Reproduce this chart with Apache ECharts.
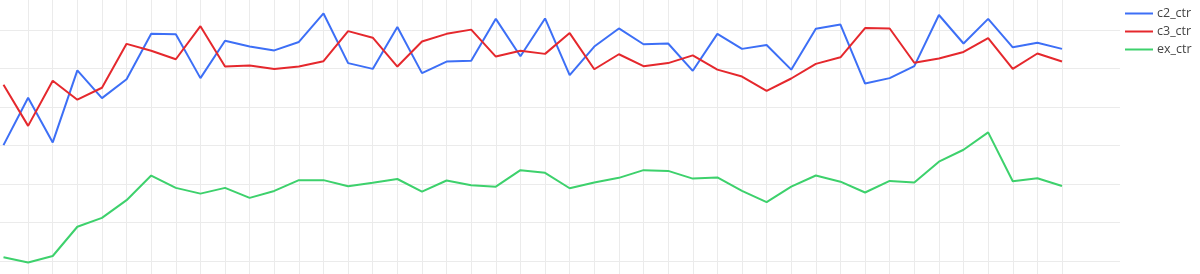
<!DOCTYPE html>
<html>
<head>
<meta charset="utf-8">
<script src="https://cdn.jsdelivr.net/npm/echarts@6/dist/echarts.min.js"></script>
<style>
html,body{margin:0;padding:0;background:#fff;}
#chart{width:1200px;height:274px;}
</style>
</head>
<body>
<div id="chart"></div>
<script>
var categories = [];
for (var i = 1; i <= 44; i++) { categories.push('d' + i); }

var c2_ctr = [3.01,4.24,3.08,4.95,4.23,4.72,5.90,5.89,4.75,5.72,5.57,5.47,5.69,6.43,5.14,4.99,6.08,4.88,5.18,5.20,6.29,5.32,6.30,4.83,5.57,6.04,5.63,5.65,4.94,5.90,5.51,5.61,4.97,6.03,6.14,4.61,4.75,5.06,6.39,5.65,6.29,5.55,5.67,5.51];
var c3_ctr = [4.58,3.51,4.68,4.19,4.50,5.64,5.46,5.24,6.10,5.05,5.08,4.99,5.05,5.19,5.97,5.80,5.05,5.70,5.90,6.01,5.31,5.46,5.38,5.92,4.98,5.37,5.06,5.14,5.34,4.97,4.79,4.42,4.74,5.12,5.29,6.05,6.04,5.15,5.26,5.43,5.79,4.99,5.39,5.18];
var ex_ctr = [0.10,-0.04,0.13,0.89,1.12,1.58,2.22,1.90,1.75,1.90,1.64,1.82,2.10,2.10,1.94,2.03,2.13,1.80,2.09,1.97,1.93,2.36,2.29,1.89,2.04,2.16,2.36,2.34,2.14,2.17,1.82,1.53,1.93,2.22,2.06,1.78,2.08,2.04,2.58,2.89,3.34,2.07,2.15,1.95];

var seriesNames = ['c2_ctr', 'c3_ctr', 'ex_ctr'];
var seriesData = [c2_ctr, c3_ctr, ex_ctr];
var colors = ['#3d6ff6', '#e5282d', '#3dd16c'];

var gridColor = '#ebebeb';
var chart = echarts.init(document.getElementById('chart'), null, {renderer: 'canvas'});

var option = {
  animation: false,
  backgroundColor: '#ffffff',
  grid: [
    {left: 3.5, right: 138, top: 0, bottom: 0},
    {left: 0, right: 80, top: 30, bottom: 13}
  ],
  legend: {
    data: seriesNames.map(function (n) { return {name: n, icon: 'rect'}; }),
    orient: 'vertical',
    left: 1125,
    top: 7,
    padding: 0,
    itemWidth: 28,
    itemHeight: 2,
    itemGap: 5,
    textStyle: {color: '#444', fontSize: 12.5, fontFamily: 'Open Sans', padding: [0, 0, 0, -1]}
  },
  xAxis: [
    {
      gridIndex: 0, type: 'category', data: categories, boundaryGap: false,
      axisLine: {show: false}, axisTick: {show: false}, axisLabel: {show: false},
      splitLine: {show: true, interval: function (idx) { return idx > 0; }, lineStyle: {color: gridColor, width: 1}}
    },
    {
      gridIndex: 1, type: 'value', min: 0, max: 1,
      axisLine: {show: false}, axisTick: {show: false}, axisLabel: {show: false}, splitLine: {show: false}
    }
  ],
  yAxis: [
    {
      gridIndex: 0, type: 'value', min: -13 / 38.5, max: 261 / 38.5,
      axisLine: {show: false}, axisTick: {show: false}, axisLabel: {show: false}, splitLine: {show: false}
    },
    {
      gridIndex: 1, type: 'value', min: 0, max: 6, interval: 1,
      axisLine: {show: false}, axisTick: {show: false}, axisLabel: {show: false},
      splitLine: {show: true, showMinLine: true, showMaxLine: true, lineStyle: {color: gridColor, width: 1}}
    }
  ],
  series: seriesNames.map(function (n, i) {
    return {
      name: n, type: 'line', xAxisIndex: 0, yAxisIndex: 0,
      data: seriesData[i], showSymbol: false, symbol: 'none',
      clip: false,
      lineStyle: {color: colors[i], width: 2},
      itemStyle: {color: colors[i]}
    };
  })
};
chart.setOption(option);
</script>
</body>
</html>
